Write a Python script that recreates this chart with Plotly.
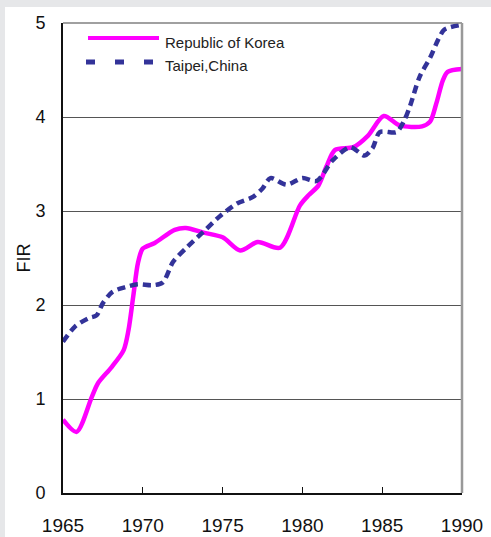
import plotly.graph_objects as go

# Financial interrelations ratio
korea_years = [1965, 1965.85, 1966.8, 1967.2, 1968.05, 1968.8, 1969.1, 1969.4, 1969.7,
               1970.0, 1970.75, 1972.0, 1972.7, 1973.8, 1975.0, 1976.1, 1977.2, 1978.6,
               1979.85, 1980.4, 1981.0, 1981.5, 1982.05, 1983.2, 1984.1, 1985.1, 1986.1,
               1987.5, 1988.0, 1988.4, 1988.8, 1989.1, 1990.0]
korea_fir = [0.78, 0.65, 1.02, 1.17, 1.34, 1.52, 1.73, 2.09, 2.45,
             2.60, 2.66, 2.80, 2.82, 2.77, 2.72, 2.58, 2.67, 2.61,
             3.06, 3.17, 3.27, 3.47, 3.65, 3.68, 3.80, 4.01, 3.91,
             3.90, 3.95, 4.15, 4.39, 4.48, 4.51]

taipei_years = [1965, 1965.75, 1966.6, 1967.1, 1967.5, 1968.1, 1968.9, 1969.7, 1970.6,
                1971.25, 1971.9, 1972.8, 1973.8, 1974.8, 1975.9, 1976.9, 1977.5, 1978.0,
                1979.0, 1980.0, 1980.9, 1981.9, 1983.0, 1983.9, 1984.4, 1984.85, 1985.9,
                1986.4, 1986.75, 1987.35, 1988.0, 1988.5, 1988.9, 1989.9]
taipei_fir = [1.61, 1.77, 1.86, 1.89, 2.02, 2.14, 2.19, 2.22, 2.21,
              2.24, 2.46, 2.62, 2.78, 2.94, 3.08, 3.15, 3.24, 3.35,
              3.28, 3.35, 3.32, 3.54, 3.68, 3.59, 3.67, 3.84, 3.84,
              3.97, 4.12, 4.43, 4.63, 4.82, 4.93, 4.98]

x_ticks = [1965, 1970, 1975, 1980, 1985, 1990]
y_ticks = [0, 1, 2, 3, 4, 5]

MAGENTA = "#ff00ff"
NAVY = "#333399"
FONT = "Liberation Sans, Arial, sans-serif"

# plot area in pixels
L, R, T, B = 63, 29, 23, 44
W, H = 491, 537
PW, PH = W - L - R, H - T - B


def px(x):
    return (x - L) / PW


def py(y):
    return (H - B - y) / PH


fig = go.Figure()

fig.add_trace(go.Scatter(
    x=korea_years, y=korea_fir, mode="lines", name="Republic of Korea",
    line=dict(color=MAGENTA, width=4.5, shape="spline", smoothing=0.8),
    showlegend=False,
))
fig.add_trace(go.Scatter(
    x=taipei_years, y=taipei_fir, mode="lines", name="Taipei,China",
    line=dict(color=NAVY, width=4.5, dash="8px,5px", shape="spline", smoothing=0.8),
    showlegend=False,
))

# gray frame around white panel
fig.add_shape(type="rect", xref="paper", yref="paper", layer="below",
              x0=px(5), x1=px(W + 10), y0=py(H + 10), y1=py(7),
              fillcolor="white", line=dict(width=0))
# top and right border of plot
fig.add_shape(type="line", xref="paper", yref="paper", x0=0, x1=1, y0=1, y1=1,
              line=dict(color="#808080", width=1.5))
fig.add_shape(type="line", xref="paper", yref="paper", x0=1, x1=1, y0=0, y1=1,
              line=dict(color="#999999", width=2.5))

# legend drawn by hand (long samples)
legend_items = [("Republic of Korea", MAGENTA, "solid", 4, 88, 159, 38, 42),
                ("Taipei,China", NAVY, "9px,20px", 5, 86, 156, 62, 66)]
for label, color, dash, width, x0, x1, ly, ty in legend_items:
    fig.add_shape(type="line", xref="paper", yref="paper",
                  x0=px(x0), x1=px(x1), y0=py(ly), y1=py(ly),
                  line=dict(color=color, width=width, dash=dash))
    fig.add_annotation(xref="paper", yref="paper", x=px(163), y=py(ty),
                       xanchor="left", yanchor="middle", showarrow=False,
                       text=label, font=dict(family=FONT, size=15, color="#222"))

fig.update_xaxes(
    range=[1965, 1990], tickvals=x_ticks, ticks="inside", ticklen=6, tickcolor="#111",
    showgrid=False, zeroline=False, showline=True, linecolor="#111", linewidth=2,
    tickfont=dict(family=FONT, size=19, color="#111"), ticklabelstandoff=14,
    automargin=False,
)
fig.update_yaxes(
    range=[0, 5], tickvals=y_ticks, showgrid=True, gridcolor="#555", gridwidth=1,
    zeroline=False, showline=True, linecolor="#111", linewidth=2,
    tickfont=dict(family=FONT, size=18, color="#111"), ticklabelstandoff=12,
    title=dict(text="FIR", font=dict(family=FONT, size=18, color="#111"), standoff=0),
    automargin=False,
)

fig.update_layout(
    width=W, height=H,
    margin=dict(l=L, r=R, t=T, b=B),
    paper_bgcolor="#e6e7e9", plot_bgcolor="white",
    showlegend=False,
)

fig.write_html("out.html", config={"displayModeBar": False},
               post_script="document.body.style.margin='0';document.body.style.overflow='hidden';")
